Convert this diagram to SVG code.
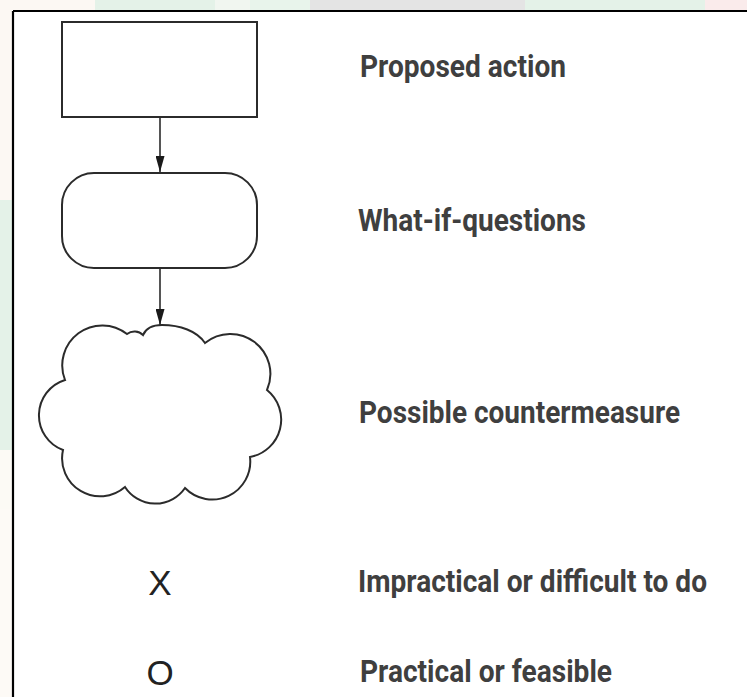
<svg xmlns="http://www.w3.org/2000/svg" width="747" height="697" viewBox="0 0 747 697">
  <style>
    .shape { fill: #ffffff; stroke: #2b2b2b; stroke-width: 2; }
    .conn { stroke: #2b2b2b; stroke-width: 1.6; fill: none; }
    .label { font-family: Roboto, "Liberation Sans", sans-serif; font-weight: 700; font-size: 30.5px; fill: #3f3f3f; }
    .sym { font-family: "Liberation Sans", Arial, sans-serif; font-size: 35px; fill: #222222; text-anchor: middle; }
    .frame { stroke: #000000; stroke-width: 2.2; fill: none; }
  </style>
  <defs>
    <marker id="arrow" markerUnits="userSpaceOnUse" markerWidth="16" markerHeight="9" refX="16" refY="4.5" orient="auto">
      <path d="M0,0 L16,4.5 L0,9 z" fill="#1a1a1a"/>
    </marker>
  </defs>
  <rect x="0" y="0" width="747" height="697" fill="#ffffff"/>
  <g id="watermark" opacity="0.55">
    <rect x="0" y="0" width="95" height="10" fill="#fbf3ea"/>
    <rect x="95" y="0" width="120" height="10" fill="#cfe8d6"/>
    <rect x="215" y="0" width="35" height="10" fill="#e6efe4"/>
    <rect x="250" y="0" width="60" height="10" fill="#d6ecdc"/>
    <rect x="310" y="0" width="215" height="10" fill="#cfcfcf"/>
    <rect x="525" y="0" width="180" height="10" fill="#cfe8d6"/>
    <rect x="705" y="0" width="42" height="10" fill="#f6dcdc"/>
    <rect x="0" y="10" width="12" height="190" fill="#fbf3ea"/>
    <rect x="0" y="200" width="12" height="250" fill="#cfe8d6"/>
    <rect x="0" y="450" width="12" height="247" fill="#fbf6ee"/>
  </g>
  <g id="frame">
    <line class="frame" x1="13" y1="11" x2="747" y2="11"/>
    <line class="frame" x1="13" y1="11" x2="13" y2="697"/>
  </g>
  <g id="connectors">
    <line class="conn" x1="160" y1="117" x2="160" y2="172" marker-end="url(#arrow)"/>
    <line class="conn" x1="160" y1="268" x2="160" y2="325" marker-end="url(#arrow)"/>
  </g>
  <g id="node-proposed-action">
    <rect class="shape" x="62" y="22" width="195" height="95"/>
    <text class="label" x="360" y="77" textLength="206" lengthAdjust="spacingAndGlyphs">Proposed action</text>
  </g>
  <g id="node-what-if">
    <rect class="shape" x="62" y="173" width="195" height="95" rx="32" ry="32"/>
    <text class="label" x="358" y="231" textLength="228" lengthAdjust="spacingAndGlyphs">What-if-questions</text>
  </g>
  <g id="node-countermeasure">
    <path class="shape" d="M65,380 A40,40 0 0 1 127,334 A12,12 0 0 1 143,335 C146,328 153,325 162,325 C180,325 197,331 205,343 A40,40 0 0 1 267,390 A38,38 0 0 1 250,457 A38,38 0 0 1 185,488 A36,36 0 0 1 125,487 A38,38 0 0 1 63,450 A37,37 0 0 1 65,380 Z"/>
    <text class="label" x="359" y="423" textLength="321" lengthAdjust="spacingAndGlyphs">Possible countermeasure</text>
  </g>
  <g id="legend-x">
    <text class="sym" x="160" y="595">X</text>
    <text class="label" x="358" y="592" textLength="349" lengthAdjust="spacingAndGlyphs">Impractical or difficult to do</text>
  </g>
  <g id="legend-o">
    <text class="sym" x="160" y="685">O</text>
    <text class="label" x="360" y="682" textLength="252" lengthAdjust="spacingAndGlyphs">Practical or feasible</text>
  </g>
</svg>
